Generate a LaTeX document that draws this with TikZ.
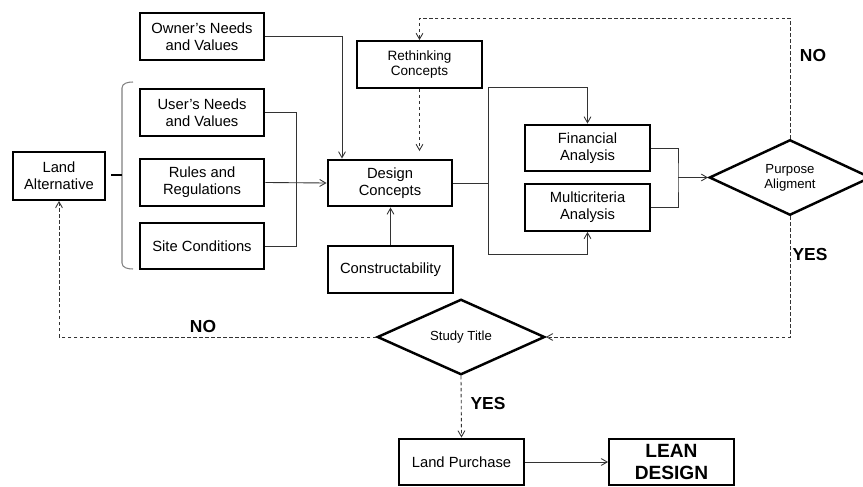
\documentclass[tikz,border=0pt]{standalone}
\usepackage{fontspec}
\setmainfont{Liberation Sans}
\usetikzlibrary{positioning}
\usetikzlibrary{arrows}
\usetikzlibrary{calc}
\usetikzlibrary{shapes.geometric}
\newcommand{\bxfont}{\fontsize{8.4}{9.8}\selectfont}
\newcommand{\smfont}{\fontsize{7.5}{8.4}\selectfont}
\newcommand{\lblfont}{\fontsize{9.9}{11}\selectfont\bfseries}
\tikzset{bx/.style={draw,line width=1.4pt,minimum width=2.49cm,minimum height=0.93cm,inner sep=1pt,align=center,font=\bxfont}}
\tikzset{dm/.style={diamond,draw,line width=1.4pt,aspect=2,inner sep=0pt,minimum height=1.51cm,align=center,font=\smfont}}
\tikzset{ln/.style={line width=0.5pt,draw=black!80}}
\tikzset{dl/.style={ln,dash pattern=on 2pt off 1.4pt}}
\tikzset{yn/.style={font=\lblfont}}
\tikzset{>=angle 60}

\begin{document}
\begin{tikzpicture}
\useasboundingbox (0,0) rectangle (17.26,9.72);
\node[bx] (own) at (4.04, 8.99) {Owner's Needs\\and Values};
\node[bx] (usr) at (4.04, 7.47) {User's Needs\\and Values};
\node[bx] (rul) at (4.04, 6.07) {Rules and\\Regulations};
\node[bx] (site) at (4.04, 4.80) {Site Conditions};
\node[bx,minimum width=1.83cm,minimum height=0.95cm] (land) at (1.18, 6.20) {Land\\Alternative};
\node[bx] (des) at (7.80, 6.06) {Design\\Concepts};
\node[bx,font=\fontsize{7.7}{9.1}\selectfont] (ret) at (8.39, 8.43) {Rethinking\\Concepts};
\node[bx] (con) at (7.81, 4.33) {Constructability};
\node[bx] (fin) at (11.75, 6.76) {Financial\\Analysis};
\node[bx] (mul) at (11.75, 5.57) {Multicriteria\\Analysis};
\node[dm,minimum width=3.23cm] (pur) at (15.80, 6.17) {Purpose\\Aligment};
\node[dm,minimum width=3.35cm] (stu) at (9.22, 2.98) {Study Title};
\node[bx] (buy) at (9.23, 0.48) {Land Purchase};
\node[bx,font=\fontsize{10.9}{13}\selectfont\bfseries] (lean) at (13.43, 0.48) {LEAN\\DESIGN};

\node[yn] (no1) at (16.26, 8.60) {NO};
\node[yn] (yes1) at (16.20, 4.62) {YES};
\node[yn] (no2) at (4.06, 3.18) {NO};
\node[yn] (yes2) at (9.76, 1.64) {YES};

\draw[gray,line width=0.6pt] (2.66,8.08) to[out=180,in=90] (2.44,7.96) -- (2.44,4.46) to[out=-90,in=180] (2.66,4.34);
\draw[line width=0.8pt] (2.22,6.22) -- (2.44,6.22);

\draw[ln,->] (own.east) -| ([xshift=-0.96cm]des.north);
\draw[ln] (usr.east) -- ++(0.61,0) |- (site.east);
\draw[ln,->] (rul.east) -- (des.west);
\draw[ln,->] (con.north) -- (con.north |- des.south);
\draw[dl,->,shorten >=0.15cm] (ret.south) -- (ret.south |- des.north);
\draw[dl,->] (pur.north) -- ++(0,2.41) -| (ret.north);
\draw[ln,->] (des.east) -- ++(0.69,0) |- ([yshift=0.73cm]fin.north) -- (fin.north);
\draw[ln,->] (des.east) -- ++(0.69,0) |- ([yshift=-0.44cm]mul.south) -- (mul.south);
\coordinate (mrg) at (13.56, 6.17);
\draw[ln] (fin.east) -| (mrg) |- (mul.east);
\draw[ln,->] (mrg) -- (pur.west);
\draw[dl,->] (pur.south) |- (stu.east);
\draw[dl,->] (stu.west) -| (land.south);
\draw[dl,->] (stu.south) -- (buy.north);
\draw[ln,->] (buy.east) -- (lean.west);
\end{tikzpicture}
\end{document}
